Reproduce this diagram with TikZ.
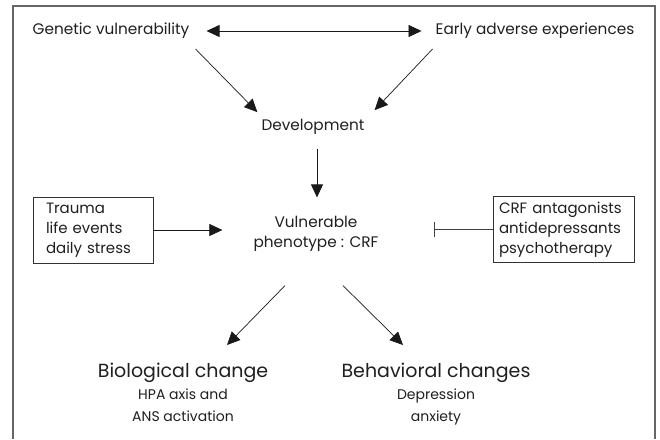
\documentclass[tikz,border=0pt]{standalone}
\usepackage{fontspec}
\setmainfont{Poppins}
\usetikzlibrary{arrows.meta,calc}
\begin{document}
\begin{tikzpicture}[x=1pt,y=-1pt,
  lbl/.style={inner sep=0pt,text=black!88,font=\fontsize{15.3}{19.5}\selectfont},
  listbox/.style={draw=black!80,line width=0.7pt,font=\fontsize{15}{20}\selectfont,
    align=left,minimum height=66pt,inner ysep=3pt,text=black!88},
  outcome/.style={inner sep=0pt,align=center,text=black!88,font=\fontsize{14}{22}\selectfont},
  conn/.style={line width=0.7pt,black!90,-{Triangle[length=13pt,width=12pt]}},
  biarrow/.style={line width=0.7pt,black!90,{Triangle[length=13pt,width=12pt]}-{Triangle[length=13pt,width=12pt]}},
  blocker/.style={line width=0.8pt,black!75,-{Bar[width=15pt,line width=0.8pt]}},
  frame/.style={line width=1.2pt,black!60}]
\useasboundingbox (0,0) rectangle (660,439);

% open frame around the figure
\draw[frame] (13,439) -- (13,6) -- (655,6) -- (655,439);

% nodes
\node[lbl] (gen)   at (111,31) {Genetic vulnerability};
\node[lbl] (early) at (535,31) {Early adverse experiences};
\node[lbl] (dev)   at (313,127) {Development};
\node[lbl,align=center] (vul) at (316,234) {Vulnerable\\phenotype : CRF};
\node[listbox,text width=94pt,inner xsep=13pt] (trauma) at (93,230)
  {Trauma\\life events\\daily stress};
\node[listbox,text width=129pt,inner xsep=6pt] (crf) at (563.5,229.5)
  {\mbox{CRF antagonists}\\antidepressants\\psychotherapy};
\node[outcome,anchor=north] (bio) at (183,363)
  {{\fontsize{19}{19}\selectfont Biological change}\\HPA axis and\\ANS activation};
\node[outcome,anchor=north] (beh) at (436,363)
  {{\fontsize{19}{19}\selectfont Behavioral changes}\\Depression\\anxiety};

% connectors
\draw[biarrow] ([xshift=17pt]gen.east) -- ([xshift=-14pt]early.west);
\draw[conn] ([xshift=6pt,yshift=-10pt]gen.south east) -- ([xshift=-4pt,yshift=7pt]dev.north west);
\draw[conn] ([xshift=-3pt,yshift=-10pt]early.south west) -- ([xshift=10pt,yshift=9pt]dev.north east);
\draw[conn] ([xshift=4pt,yshift=-14pt]dev.south) -- ([xshift=1pt,yshift=19pt]vul.north);
\draw[conn] (trauma.east) -- ([xshift=69pt]trauma.east);
\draw[blocker] (crf.west) -- ([xshift=-59pt]crf.west);
\draw[conn] ([xshift=-31pt,yshift=-34pt]vul.south) -- ([xshift=44pt,yshift=18pt]bio.north);
\draw[conn] ([xshift=27pt,yshift=-34pt]vul.south) -- ([xshift=-33pt,yshift=18pt]beh.north);
\end{tikzpicture}
\end{document}
